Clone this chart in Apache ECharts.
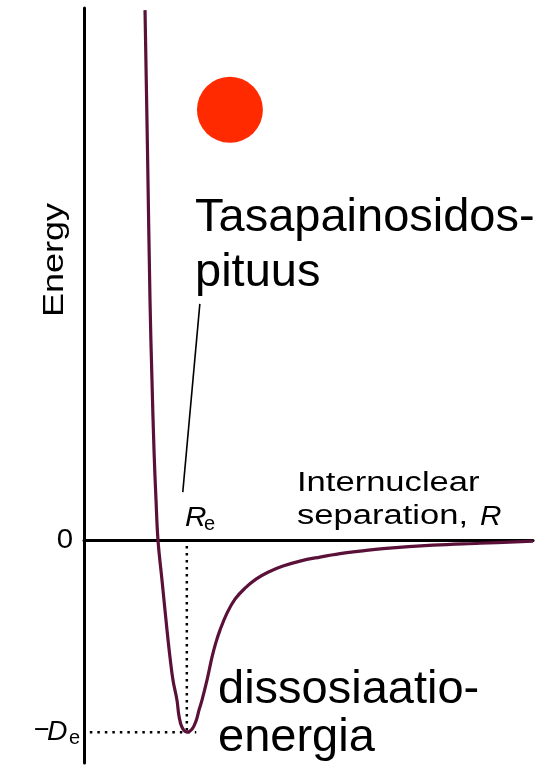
<!DOCTYPE html>
<html>
<head>
<meta charset="utf-8">
<script src="https://cdn.jsdelivr.net/npm/echarts@6/dist/echarts.min.js"></script>
<style>
  html, body { margin: 0; padding: 0; background: #fff; }
  #main { width: 557px; height: 775px; }
</style>
</head>
<body>
<div id="main"></div>
<script>
// separation R (arbitrary units) and energy (in units of De)
var rValues = [1.359, 1.414, 1.470, 1.514, 1.559, 1.604, 1.648, 1.737, 1.849, 1.915, 1.982, 2.071, 2.116, 2.183, 2.294,
    2.405, 2.494, 2.561, 2.628, 2.739, 2.851, 2.940, 3.029, 3.185, 3.363, 3.586, 3.831, 4.098, 4.432, 4.811,
    5.256, 5.702, 6.147, 6.659, 7.773, 8.820, 10.0];
var energyValues = [2.759, 2.030, 1.249, 0.833, 0.469, 0.208, 0.0, -0.208, -0.468, -0.609, -0.729, -0.833, -0.916, -0.974, -0.999,
    -0.984, -0.942, -0.885, -0.833, -0.729, -0.609, -0.531, -0.468, -0.380, -0.307, -0.250, -0.203, -0.167, -0.135, -0.109,
    -0.088, -0.070, -0.057, -0.044, -0.026, -0.016, -0.005];

var equilibriumR = 2.29;   // Re
var wellDepth = -1.0;      // -De
var reDotted = [[equilibriumR, -0.03], [equilibriumR, wellDepth]];
var deDotted = [[0.13, wellDepth], [2.5, wellDepth]];
var leader = [[2.58, 1.23], [2.2, 0.25]];
var atom = [[3.25, 2.24]];

var curveColor = '#5a1038';
var font = 'Liberation Sans, Arial, sans-serif';

var chart = echarts.init(document.getElementById('main'));

var txt = function (x, y, text, size, opts) {
    opts = opts || {};
    return {
        type: 'text',
        x: x,
        y: y,
        rotation: opts.rotation || 0,
        scaleX: opts.scaleX || 1,
        z: 10,
        style: {
            text: text,
            fill: '#000',
            font: (opts.italic ? 'italic ' : '') + size + 'px ' + font,
            align: opts.align || 'left',
            textAlign: opts.align || 'left',
            verticalAlign: 'middle',
            textVerticalAlign: 'middle'
        }
    };
};

var option = {
    animation: false,
    backgroundColor: '#fff',
    grid: { left: 84, right: 24, top: 8, bottom: 12 },
    xAxis: {
        type: 'value',
        min: 0,
        max: 10,
        axisLine: { show: true, onZero: true, lineStyle: { color: '#000', width: 3 } },
        axisTick: { show: false },
        axisLabel: { show: false },
        splitLine: { show: false }
    },
    yAxis: {
        type: 'value',
        min: -1.16,
        max: 2.77,
        axisLine: { show: true, lineStyle: { color: '#000', width: 3 } },
        axisTick: { show: false },
        axisLabel: { show: false },
        splitLine: { show: false }
    },
    series: [
        {
            // dotted guide lines for Re and -De
            type: 'line',
            data: reDotted,
            symbol: 'none',
            z: 1,
            lineStyle: { color: '#000', width: 2.5, type: [2.5, 4.5] }
        },
        {
            type: 'line',
            data: deDotted,
            symbol: 'none',
            z: 1,
            lineStyle: { color: '#000', width: 2.5, type: [2.5, 5] }
        },
        {
            type: 'line',
            data: leader,
            symbol: 'none',
            lineStyle: { color: '#000', width: 1.6 }
        },
        {
            name: 'potential',
            type: 'line',
            data: rValues.map(function (r, i) { return [r, energyValues[i]]; }),
            symbol: 'none',
            smooth: 0.4,
            z: 3,
            lineStyle: { color: curveColor, width: 3.2 }
        },
        {
            type: 'scatter',
            data: atom,
            symbolSize: 66,
            itemStyle: { color: '#ff2a00', opacity: 1 }
        }
    ],
    graphic: [
        txt(195, 218, 'Tasapainosidos-', 47),
        txt(195, 273, 'pituus', 47),
        txt(218, 690, 'dissosiaatio-', 47),
        txt(218, 738, 'energia', 47),
        txt(297, 484, 'Internuclear', 27, { scaleX: 1.28 }),
        txt(297, 517, 'separation, ', 27, { scaleX: 1.28 }),
        txt(480, 517, 'R', 27, { scaleX: 1.1, italic: true }),
        txt(185, 518, 'R', 27, { scaleX: 1.1, italic: true }),
        txt(204, 524, 'e', 20),
        txt(65, 540, '0', 28, { align: 'center', scaleX: 1.05 }),
        txt(34, 731, '\u2212', 27),
        txt(47, 732, 'D', 27, { scaleX: 1.05, italic: true }),
        txt(69, 738, 'e', 20),
        txt(55, 260, 'Energy', 29, { align: 'center', rotation: Math.PI / 2, scaleX: 1.24 })
    ]
};

chart.setOption(option);
</script>
</body>
</html>
